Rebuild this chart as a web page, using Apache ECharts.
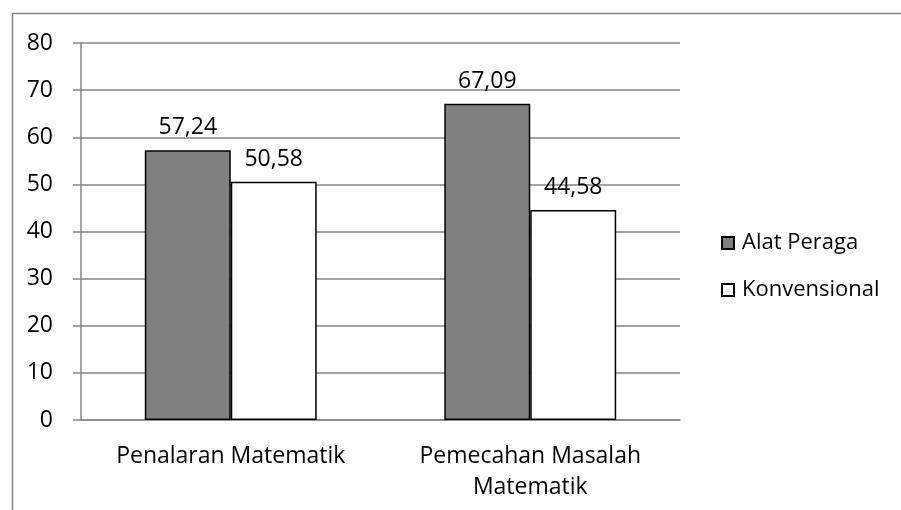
<!DOCTYPE html>
<html lang="en">
<head>
    <meta charset="UTF-8">
    <title>Chart</title>
    <script src="https://cdn.jsdelivr.net/npm/echarts@6/dist/echarts.min.js"></script>
    <style>
        body { margin: 0; background: #fff; }
    </style>
</head>
<body>
    <div id="main" style="width:901px;height:510px;"></div>

    <script>
var categories = ['Penalaran Matematik', 'Pemecahan Masalah\nMatematik'];
var seriesNames = ['Alat Peraga', 'Konvensional'];
var alatPeraga = [57.24, 67.09];
var konvensional = [50.58, 44.58];
var yTicks = [0, 10, 20, 30, 40, 50, 60, 70, 80];

var font = '"Open Sans", Lato, sans-serif';
var fs = 23;

function fmt(p) {
    return p.value.toFixed(2).replace('.', ',');
}

var myChart = echarts.init(document.getElementById('main'));
myChart.setOption({
    animation: false,
    textStyle: { fontFamily: font },
    graphic: [{
        type: 'rect',
        shape: { x: 12.5, y: 13.5, width: 900, height: 520 },
        style: { fill: 'none', stroke: '#868686', lineWidth: 1.5 },
        silent: true
    }],
    grid: { left: 81, right: 221, top: 43, bottom: 90 },
    legend: {
        orient: 'vertical',
        left: 716,
        top: 227,
        itemWidth: 12,
        itemHeight: 12,
        itemGap: 25,
        icon: 'rect',
        textStyle: { fontSize: fs - 1, color: '#000', padding: [0, 0, 0, 3] },
        data: seriesNames
    },
    xAxis: {
        type: 'category',
        data: categories,
        axisLine: { lineStyle: { color: '#868686', width: 1.5 } },
        axisTick: { length: 7, lineStyle: { color: '#868686', width: 1.5 } },
        axisLabel: { fontSize: fs, color: '#000', margin: 21, lineHeight: 31, interval: 0 }
    },
    yAxis: {
        type: 'value',
        min: yTicks[0],
        max: yTicks[yTicks.length - 1],
        interval: 10,
        axisLine: { show: true, lineStyle: { color: '#868686', width: 1.5 } },
        axisTick: { show: true, length: 8, lineStyle: { color: '#868686', width: 1.5 } },
        axisLabel: { fontSize: fs, color: '#000', margin: 28 },
        splitLine: { lineStyle: { color: '#868686', width: 1.5 } }
    },
    series: [{
        name: seriesNames[0],
        type: 'bar',
        data: alatPeraga,
        barWidth: '28.7%',
        barGap: '0%',
        itemStyle: { color: '#808080', borderColor: '#000', borderWidth: 1.5 },
        label: { show: true, position: 'top', fontSize: fs, color: '#000', distance: 11, formatter: fmt }
    }, {
        name: seriesNames[1],
        type: 'bar',
        data: konvensional,
        barWidth: '28.7%',
        itemStyle: { color: '#fff', borderColor: '#000', borderWidth: 1.5 },
        label: { show: true, position: 'top', fontSize: fs, color: '#000', distance: 11, formatter: fmt }
    }]
});
    </script>
</body>
</html>
